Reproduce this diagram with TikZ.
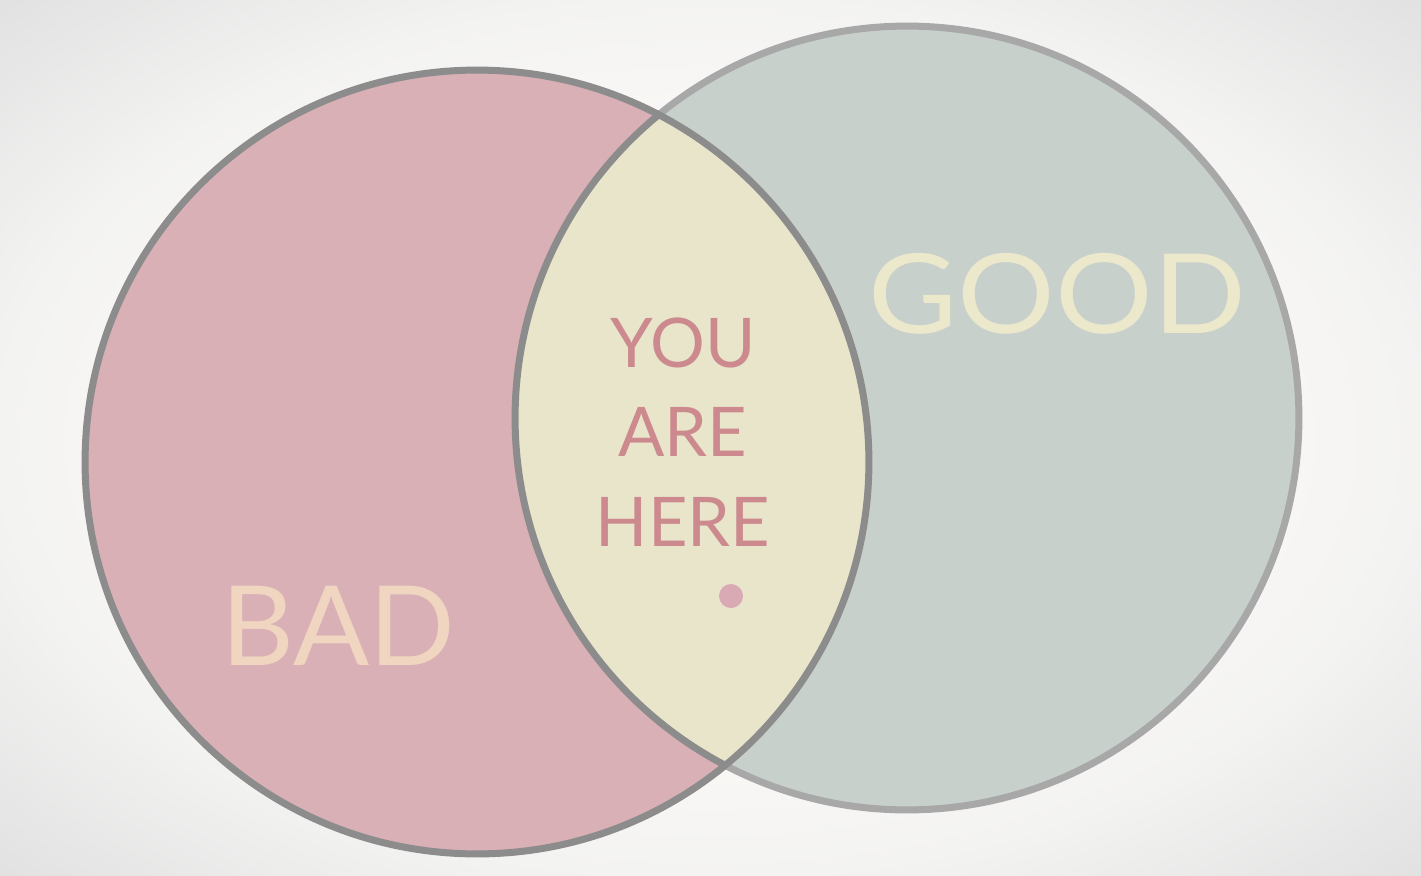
\documentclass[tikz,border=0pt]{standalone}
\usepackage{fontspec}
\setmainfont{Lato}
\newfontfamily\widelato{Lato}[FakeStretch=1.06]
\usetikzlibrary{positioning}
\definecolor{badfill}{HTML}{D9B0B6}
\definecolor{goodfill}{HTML}{C8D0CC}
\definecolor{lensfill}{HTML}{E8E5CB}
\definecolor{darkrim}{HTML}{8C8C8C}
\definecolor{lightrim}{HTML}{A8A8A8}
\definecolor{badtext}{HTML}{F0D5C0}
\definecolor{goodtext}{HTML}{ECE8CC}
\definecolor{heretext}{HTML}{CC8A8E}
\definecolor{dotfill}{HTML}{D9AAB4}
\definecolor{bgmid}{HTML}{FCF9F6}
\definecolor{bgedge}{HTML}{F3F3F2}
\definecolor{bgcorner}{HTML}{E2E2E2}
\pgfdeclareradialshading{vignette}{\pgfpoint{0bp}{0bp}}{color(0bp)=(white); color(16bp)=(bgmid); color(25bp)=(bgedge); color(35bp)=(bgcorner); color(50bp)=(bgcorner)}
\tikzset{
  rim/.style={line width=7*0.02cm},
  bigword/.style={font=\widelato\fontsize{63}{63}\selectfont, inner sep=0pt, anchor=base},
}
\begin{document}
\begin{tikzpicture}[x=0.02cm, y=-0.02cm]
  \useasboundingbox (0,0) rectangle (1421,876);
  \shade[shading=vignette] (0,0) rectangle (1421,876);
  \coordinate (badc) at (477,462);
  \coordinate (goodc) at (907,418);
  % right circle
  \fill[goodfill] (goodc) circle[radius=7.84cm];
  \draw[rim, lightrim] (goodc) circle[radius=7.84cm];
  % left circle
  \fill[badfill] (badc) circle[radius=7.84cm];
  % overlap
  \begin{scope}
    \clip (badc) circle[radius=7.84cm];
    \fill[lensfill] (goodc) circle[radius=7.84cm];
    \draw[rim, darkrim] (goodc) circle[radius=7.84cm];
  \end{scope}
  \draw[rim, darkrim] (badc) circle[radius=7.84cm];
  % labels
  \node[bigword, text=badtext, xscale=0.96] (bad) at (338,665) {BAD};
  \node[bigword, text=goodtext, xscale=1.04] (good) at (1057,333) {GOOD};
  \node[font=\fontsize{39}{51}\selectfont, text=heretext, align=center, inner sep=0pt] (here) at (683,432) {YOU\\ARE\\HERE};
  \fill[dotfill] (731,596) circle[radius=12*0.02cm];
\end{tikzpicture}
\end{document}
